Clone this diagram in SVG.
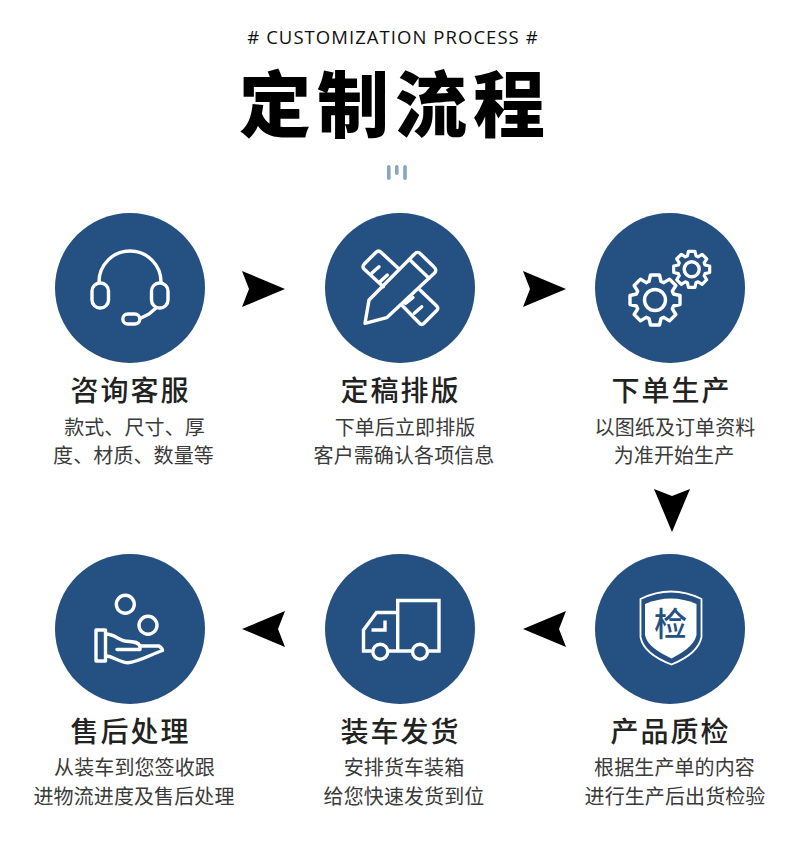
<svg xmlns="http://www.w3.org/2000/svg" xmlns:xlink="http://www.w3.org/1999/xlink" width="790" height="856" viewBox="0 0 790 856">
<style>
text{font-family:"Noto Sans CJK SC","Noto Sans",sans-serif;text-anchor:middle}
.h{font-size:28px;font-weight:500;fill:#222;letter-spacing:2px}
.s{font-size:20px;font-weight:400;fill:#3a3a3a;letter-spacing:.1px}
.c{fill:#245082}
.i{fill:none;stroke:#fff;stroke-width:3.4;stroke-linecap:round;stroke-linejoin:round}
.a{fill:#000}
.b{fill:#88a5c5}
</style>
<defs>
<path id="gear" d="M-6-18.5L-4.5-25H4.5L6-18.5A19 19 0 0 1 8.84-17.32L14.5-20.86L20.86-14.5L17.32-8.84A19 19 0 0 1 18.5-6L25-4.5V4.5L18.5 6A19 19 0 0 1 17.32 8.84L20.86 14.5L14.5 20.86L8.84 17.32A19 19 0 0 1 6 18.5L4.5 25H-4.5L-6 18.5A19 19 0 0 1 -8.84 17.32L-14.5 20.86L-20.86 14.5L-17.32 8.84A19 19 0 0 1 -18.5 6L-25 4.5V-4.5L-18.5-6A19 19 0 0 1 -17.32-8.84L-20.86-14.5L-14.5-20.86L-8.84-17.32A19 19 0 0 1 -6-18.5Z"/>
</defs>
<rect width="790" height="856" fill="#fff"/>
<g id="header">
<text x="393" y="44" font-size="18.5" letter-spacing="1.05" fill="#111" style="font-family:'Open Sans','Noto Sans',sans-serif"># CUSTOMIZATION PROCESS #</text>
<text x="395" y="130.500" font-size="72" font-weight="900" letter-spacing="6" fill="#000">定制流程</text>
<rect class="b" x="387" y="165" width="3.6" height="15" rx="1.8"/>
<rect class="b" x="395" y="165" width="3.6" height="10" rx="1.8"/>
<rect class="b" x="403.2" y="165" width="3.6" height="15" rx="1.8"/>
</g>
<g id="connectors">
<path class="a" d="M242 271L285 289L242 307L249 289Z"/>
<path class="a" d="M523 271L566 289L523 307L530 289Z"/>
<path class="a" d="M654 489L672 496L690 489L672 532Z"/>
<path class="a" d="M566 611L523 629L566 647L559 629Z"/>
<path class="a" d="M285 611L242 629L285 647L278 629Z"/>
</g>
<g id="node1">
<circle class="c" cx="130" cy="288" r="75"/>
<g class="i">
<path d="M99 282A31 31 0 0 1 161 282"/>
<rect x="92" y="283" width="16.500" height="25" rx="8"/>
<rect x="151.500" y="283" width="16.500" height="25" rx="8"/>
<rect x="122.800" y="314" width="17" height="10" rx="5"/>
<path d="M140 318.500L149 314L156 308"/>
</g>
<text class="h" x="130.500" y="401">咨询客服</text>
<text class="s" x="134.500" y="435">款式、尺寸、厚</text>
<text class="s" x="133.500" y="463">度、材质、数量等</text>
</g>
<g id="node2">
<circle class="c" cx="400" cy="288" r="75"/>
<g class="i">
<path d="M398.300 268.300L381 252.300Q378.500 250 376 252.300L364 264.300Q362 266.700 364 269L383.300 286.700"/>
<path d="M420 290L436.700 306Q439 308.300 436.700 310.500L424 323.300Q421.700 325.500 419.500 323.300L401.700 305"/>
<path d="M365 323.300L369 300L414.300 254.300Q417.700 250.500 421 254.300L434 267Q437.500 270 434 273.500L386.700 317.700Z"/>
<path d="M410 260L429 278.300"/>
<path d="M371.700 273.300L379 266.700M380 281.700L387.300 275M405.500 303.500L413 297.500M414.300 313.300L421.700 306.700"/>
</g>
<text class="h" x="400.500" y="401">定稿排版</text>
<text class="s" x="405" y="435">下单后立即排版</text>
<text class="s" x="404" y="463">客户需确认各项信息</text>
</g>
<g id="node3">
<circle class="c" cx="670" cy="288" r="75"/>
<g class="i">
<use xlink:href="#gear" href="#gear" transform="translate(655 300)"/>
<circle cx="655" cy="300" r="10.500"/>
<use xlink:href="#gear" href="#gear" transform="translate(691.700 269.300) scale(.72)" stroke-width="4.400"/>
<circle cx="691.700" cy="269.300" r="7.500"/>
</g>
<text class="h" x="671.500" y="401">下单生产</text>
<text class="s" x="675" y="435">以图纸及订单资料</text>
<text class="s" x="674" y="463">为准开始生产</text>
</g>
<g id="node4">
<circle class="c" cx="670" cy="629" r="75"/>
<path d="M640.500 599Q671 584 701.500 599V637C699 650 685 659 671.500 664.500C657 659 643 650 640.500 637Z" fill="none" stroke="#fff" stroke-width="1.800"/>
<path d="M645 604Q671 593 696.500 604V635C694 646 682 653 671.500 658.500C660 653 647 646 645 635Z" fill="#fff"/>
<text x="670.500" y="636" font-size="33" font-weight="500" fill="#245082">检</text>
<text class="h" x="670.500" y="742">产品质检</text>
<text class="s" x="674.500" y="775">根据生产单的内容</text>
<text class="s" x="675" y="804">进行生产后出货检验</text>
</g>
<g id="node5">
<circle class="c" cx="400" cy="629" r="75"/>
<g class="i" style="stroke-linecap:butt;stroke-linejoin:miter">
<path d="M397.700 651V600.500H439V651H428.700M411.500 651H389M371.500 651H363.500V630L376.500 612.500H397.700"/>
<path d="M385 620.500V630H371.500"/>
<circle cx="380.300" cy="651.700" r="7.500"/>
<circle cx="420" cy="651.700" r="7.500"/>
</g>
<text class="h" x="400.500" y="742">装车发货</text>
<text class="s" x="404" y="775">安排货车装箱</text>
<text class="s" x="404" y="804">给您快速发货到位</text>
</g>
<g id="node6">
<circle class="c" cx="130" cy="629" r="75"/>
<g class="i">
<circle cx="125.300" cy="604.300" r="9"/>
<circle cx="148" cy="625.300" r="9"/>
<rect x="96" y="630" width="9.500" height="31"/>
<path d="M106 634C114 634 119 640 125 641C132 642 138 641 140 646H159C162 648 162.500 650 162.500 650.500C150 655 138 662 128 662.700C120 662.700 113 656 106 656"/>
<path d="M117 649.500H140V646"/>
</g>
<text class="h" x="130.500" y="742">售后处理</text>
<text class="s" x="134.500" y="775">从装车到您签收跟</text>
<text class="s" x="134" y="804">进物流进度及售后处理</text>
</g>
</svg>
